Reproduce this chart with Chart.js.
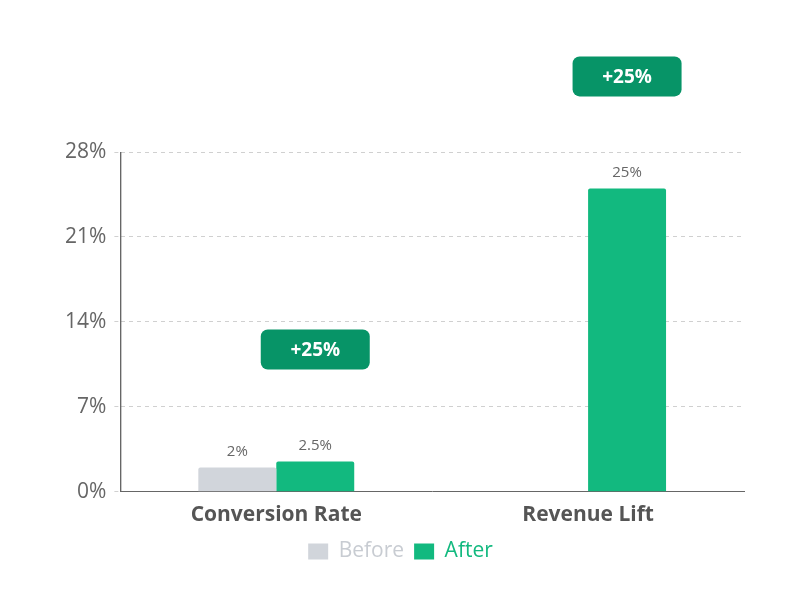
<!DOCTYPE html>
<html>
<head>
<meta charset="utf-8">
<script src="https://cdn.jsdelivr.net/npm/chart.js@4/dist/chart.umd.min.js"></script>
<style>
  html, body { margin: 0; padding: 0; background: #fff; }
  #wrap { width: 804px; height: 599px; }
</style>
</head>
<body>
<div id="wrap"><canvas id="c"></canvas></div>
<script>
// --- data ---
const categories = ['Conversion Rate', 'Revenue Lift'];
const beforeValues = [2, null];
const afterValues = [2.5, 25];
const valueLabels = { before: ['2%', ''], after: ['2.5%', '25%'] };
const badgeLabels = ['+25%', '+25%'];

const GREEN = '#12b97f';
const GREY = '#d1d5db';
const BADGE = '#079467';
const FONT = "'Open Sans', sans-serif";

// labels over bars + badges over the "After" bars
const annotatePlugin = {
    id: 'annotate',
    afterDatasetsDraw(chart) {
        const { ctx } = chart;
        ctx.save();
        ctx.textAlign = 'center';
        ctx.font = `15px ${FONT}`;
        ctx.fillStyle = '#666';
        ['before', 'after'].forEach((key, di) => {
            chart.getDatasetMeta(di).data.forEach((bar, i) => {
                const txt = valueLabels[key][i];
                if (!txt) return;
                ctx.textBaseline = 'bottom';
                ctx.fillText(txt, bar.x, bar.y - 8);
            });
        });
        chart.getDatasetMeta(1).data.forEach((bar, i) => {
            const cx = bar.x, cy = bar.y - 112;
            const w = 109, h = 40;
            ctx.fillStyle = BADGE;
            ctx.beginPath();
            ctx.roundRect(cx - w / 2, cy - h / 2, w, h, 7);
            ctx.fill();
            ctx.fillStyle = '#fff';
            ctx.font = `bold 19px ${FONT}`;
            ctx.textBaseline = 'middle';
            ctx.fillText(badgeLabels[i], cx, cy + 1);
        });
        ctx.restore();
    }
};

new Chart(document.getElementById('c').getContext('2d'), {
    type: 'bar',
    data: {
        labels: categories,
        datasets: [
            { label: 'Before', data: beforeValues, backgroundColor: GREY, borderRadius: 2, borderSkipped: 'bottom' },
            { label: 'After', data: afterValues, backgroundColor: GREEN, borderRadius: 2, borderSkipped: 'bottom' }
        ]
    },
    options: {
        responsive: true,
        maintainAspectRatio: false,
        animation: false,
        layout: { padding: { top: 152, right: 60, left: 57, bottom: 27 } },
        datasets: { bar: { categoryPercentage: 0.5, barPercentage: 1 } },
        scales: {
            y: {
                min: 0, max: 28,
                ticks: { stepSize: 7, callback: v => v + '%', color: '#666', font: { family: FONT, size: 21 }, padding: 8 },
                grid: { color: '#d0d0d0', tickLength: 6, drawTicks: true, tickBorderDash: [4, 4] },
                border: { color: '#666', dash: [4, 4] }
            },
            x: {
                ticks: { color: '#555', font: { family: FONT, size: 21, weight: 'bold' } },
                grid: { display: false },
                border: { color: '#666' }
            }
        },
        plugins: {
            legend: {
                position: 'bottom',
                labels: {
                    font: { family: FONT, size: 21 },
                    boxWidth: 20, boxHeight: 16,
                    generateLabels: chart => chart.data.datasets.map((ds, i) => ({
                        text: ds.label,
                        fillStyle: ds.backgroundColor,
                        strokeStyle: ds.backgroundColor,
                        lineWidth: 0,
                        fontColor: i === 0 ? '#c8ccd2' : GREEN,
                        datasetIndex: i
                    }))
                }
            },
            tooltip: { enabled: false }
        }
    },
    plugins: [annotatePlugin,
        {
            id: 'solidYAxis',
            afterDraw(chart) {
                const { ctx, chartArea } = chart;
                ctx.save();
                ctx.strokeStyle = '#666';
                ctx.lineWidth = 1;
                ctx.beginPath();
                ctx.moveTo(chartArea.left + 0.5, chartArea.top);
                ctx.lineTo(chartArea.left + 0.5, chartArea.bottom);
                ctx.stroke();
                ctx.restore();
            }
        }]
});
</script>
</body>
</html>
